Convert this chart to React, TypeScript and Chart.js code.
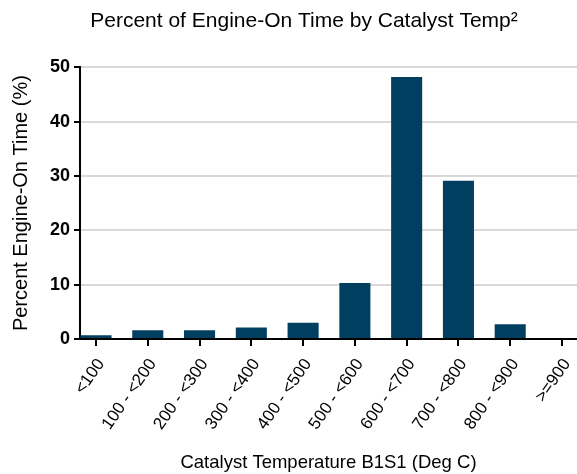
import { useEffect, useRef } from 'react';
import { Chart, registerables } from 'chart.js';

Chart.register(...registerables);

const categories = ['<100', '100 - <200', '200 - <300', '300 - <400', '400 - <500', '500 - <600', '600 - <700', '700 - <800', '800 - <900', '>=900'];
const percentValues = [0.7, 1.6, 1.6, 2.1, 3.0, 10.3, 48.2, 29.1, 2.7, 0];
const yTickValues = [0, 10, 20, 30, 40, 50];
const chartTitle = 'Percent of Engine-On Time by Catalyst Temp²';
const xAxisTitle = 'Catalyst Temperature B1S1 (Deg C)';
const yAxisTitle = 'Percent Engine-On Time (%)';

const FONT = "'Liberation Sans', Arial, sans-serif";

const titleShift = {
  id: 'titleShift',
  afterLayout(chart: any) {
    const t = chart.titleBlock;
    if (t) t.left = 31;
  },
};

export default function App() {
  const ref = useRef<HTMLCanvasElement | null>(null);

  useEffect(() => {
    document.body.style.margin = '0';
    const canvas = ref.current;
    if (!canvas) return;
    const chart = new Chart(canvas, {
      type: 'bar',
      plugins: [titleShift],
      data: {
        datasets: [
          {
            data: percentValues.map((v, i) => ({ x: i, y: v })),
            backgroundColor: '#003f5f',
            borderWidth: 0,
            barPercentage: 0.6,
            categoryPercentage: 1,
          },
        ],
      },
      options: {
        responsive: false,
        animation: false,
        devicePixelRatio: 1,
        layout: { padding: 0 },
        plugins: {
          legend: { display: false },
          tooltip: { enabled: false },
          title: {
            display: true,
            text: chartTitle,
            color: '#000',
            font: { family: FONT, size: 21, weight: 'normal' },
            padding: { top: 9, bottom: 33 },
          },
        },
        scales: {
          x: {
            type: 'linear',
            offset: false,
            min: -0.309,
            max: 9.29,
            afterBuildTicks: (s: any) => {
              s.ticks = categories.map((_, i) => ({ value: i }));
            },
            afterFit: (s: any) => {
              s.height = 135;
              s.paddingLeft = 0;
              s.paddingRight = 0;
            },
            ticks: {
              autoSkip: false,
              minRotation: 55,
              maxRotation: 55,
              padding: 9,
              labelOffset: 5,
              color: '#000',
              font: { family: FONT, size: 17 },
              callback: (v: any) => categories[v] ?? '',
            },
            grid: {
              offset: false,
              drawOnChartArea: false,
              drawTicks: true,
              tickLength: 7,
              tickColor: '#000',
              lineWidth: 2,
            },
            border: { display: true, color: '#000', width: 2 },
            title: {
              display: true,
              text: xAxisTitle,
              color: '#000',
              font: { family: FONT, size: 18.5 },
              padding: { top: 0, bottom: 0 },
            },
          },
          y: {
            min: 0,
            max: 50,
            afterBuildTicks: (s: any) => {
              s.ticks = yTickValues.map((v) => ({ value: v }));
            },
            afterFit: (s: any) => {
              s.width = 80;
            },
            ticks: {
              padding: 4,
              color: '#000',
              font: { family: FONT, size: 18, weight: 'bold' },
            },
            grid: {
              color: '#d9d9d9',
              lineWidth: 2,
              tickColor: '#000',
              tickLength: 6,
            },
            border: { display: true, color: '#000', width: 2 },
            title: {
              display: true,
              text: yAxisTitle,
              color: '#000',
              font: { family: FONT, size: 20 },
              padding: { top: 9, bottom: 0 },
            },
          },
        },
      },
    });
    return () => chart.destroy();
  }, []);

  return (
    <div style={{ width: 577, height: 474 }}>
      <canvas ref={ref} width={577} height={474} />
    </div>
  );
}
